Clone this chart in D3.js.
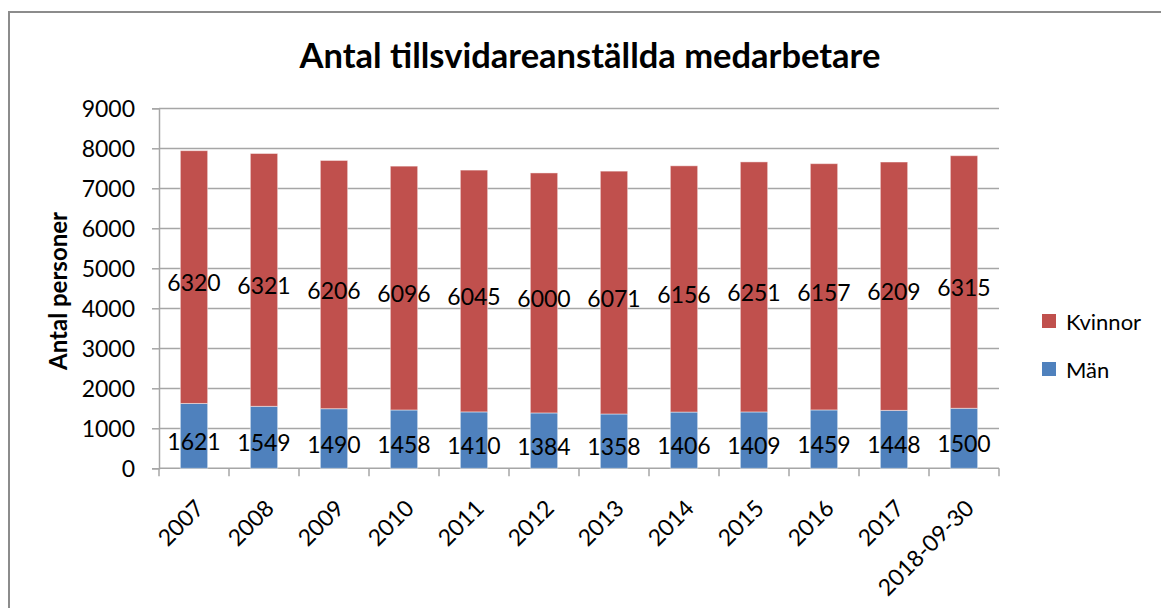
<!DOCTYPE html>
<html><head><meta charset="utf-8">
<script src="https://cdn.jsdelivr.net/npm/d3@7"></script>
<style>
html,body{margin:0;padding:0;background:#fff;}
svg{display:block;}
text{font-family:Lato,"Open Sans",sans-serif;fill:#000;}
</style></head>
<body>
<svg id="c" width="1161" height="608"></svg>
<script>
const categories = ["2007","2008","2009","2010","2011","2012","2013","2014","2015","2016","2017","2018-09-30"];
const man = [1621,1549,1490,1458,1410,1384,1358,1406,1409,1459,1448,1500];
const kvinnor = [6320,6321,6206,6096,6045,6000,6071,6156,6251,6157,6209,6315];
const yTicks = [0,1000,2000,3000,4000,5000,6000,7000,8000,9000];
const seriesNames = ["Kvinnor","Män"];
const title = "Antal tillsvidareanställda medarbetare";
const yTitle = "Antal personer";

const colors = {"Män":"#4F81BD","Kvinnor":"#C0504D"};
const grid = "#A6A6A6";
const svg = d3.select("#c");

// outer border
svg.append("rect").attr("x",9).attr("y",12).attr("width",1170).attr("height",620)
  .attr("fill","none").attr("stroke","#8C8C8C").attr("stroke-width",2);

const L=159, R=999, T=108.3, B=468.3;
const x = d3.scaleBand().domain(categories).range([L,R]).paddingInner(0).paddingOuter(0);
const y = d3.scaleLinear().domain([0,9000]).range([B,T]);
const barW = x.bandwidth()*0.39;

// gridlines
svg.append("g").selectAll("line").data(yTicks.filter(d=>d>0)).join("line")
  .attr("x1",L).attr("x2",R).attr("y1",d=>Math.round(y(d))+0.5).attr("y2",d=>Math.round(y(d))+0.5)
  .attr("stroke",grid).attr("stroke-width",1.5);

// y axis
const ya = svg.append("g").attr("transform",`translate(${L},0)`)
  .call(d3.axisLeft(y).tickValues(yTicks).tickSize(7).tickPadding(17).tickFormat(d3.format("d")));
ya.select(".domain").attr("stroke",grid).attr("stroke-width",1.5);
ya.selectAll(".tick line").attr("stroke",grid).attr("stroke-width",1.5);
ya.selectAll(".tick text").attr("font-family","Lato").attr("font-size",23).attr("fill","#000").attr("dy","0.36em");

// x axis
const boundaries = d3.range(categories.length+1).map(i=>L+i*x.step());
svg.append("line").attr("x1",L).attr("x2",R).attr("y1",B).attr("y2",B).attr("stroke",grid).attr("stroke-width",1.5);
svg.append("g").selectAll("line").data(boundaries).join("line")
  .attr("x1",d=>d).attr("x2",d=>d).attr("y1",B).attr("y2",B+8).attr("stroke",grid).attr("stroke-width",1.5);
svg.append("g").selectAll("text").data(categories).join("text")
  .attr("transform",d=>`translate(${x(d)+x.bandwidth()/2},${B+30}) rotate(-45)`)
  .attr("text-anchor","end").attr("font-size",23).attr("dy","0.7em").text(d=>d);

// stacked bars
const rows = categories.map((c,i)=>({cat:c,"Män":man[i],"Kvinnor":kvinnor[i]}));
const stack = d3.stack().keys(["Män","Kvinnor"])(rows);
const g = svg.append("g");
stack.forEach(s=>{
  g.append("g").selectAll("rect").data(s).join("rect")
    .attr("x",d=>x(d.data.cat)+(x.bandwidth()-barW)/2)
    .attr("width",barW)
    .attr("y",d=>y(d[1]))
    .attr("height",d=>y(d[0])-y(d[1]))
    .attr("fill",colors[s.key])
    .attr("stroke","rgba(255,255,255,0.45)").attr("stroke-width",1);
});
stack.forEach(s=>{
  g.append("g").selectAll("text").data(s).join("text")
    .attr("x",d=>x(d.data.cat)+x.bandwidth()/2)
    .attr("y",d=>y((d[0]+d[1])/2)+5)
    .attr("text-anchor","middle").attr("dominant-baseline","central")
    .attr("font-size",23).text(d=>d[1]-d[0]);
});

// title
svg.append("text").attr("x",590).attr("y",68).attr("text-anchor","middle")
  .attr("font-weight","bold").attr("font-size",34.5).text(title);
// y title
svg.append("text").attr("transform","translate(67,291) rotate(-90)").attr("text-anchor","middle")
  .attr("font-weight","bold").attr("font-size",24).text(yTitle);

// legend
const lg = svg.append("g");
seriesNames.forEach((n,i)=>{
  const yy = 321 + i*48;
  lg.append("rect").attr("x",1042).attr("y",yy-7).attr("width",14).attr("height",14).attr("fill",colors[n]);
  lg.append("text").attr("x",1066).attr("y",yy).attr("dominant-baseline","central").attr("font-size",22).text(n);
});
</script>
</body></html>
